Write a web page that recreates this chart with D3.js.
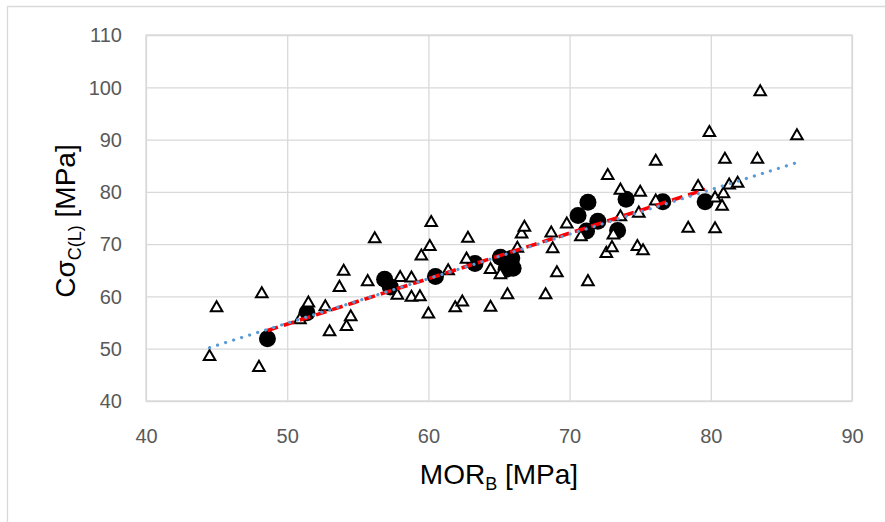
<!DOCTYPE html>
<html><head><meta charset="utf-8">
<script src="https://cdn.jsdelivr.net/npm/d3@7"></script>
<style>body{margin:0;background:#fff} svg{display:block}</style>
</head><body>
<svg id="c" width="885" height="522"></svg>
<script>
const xTicks = [40, 50, 60, 70, 80, 90];
const yTicks = [40, 50, 60, 70, 80, 90, 100, 110];

// open triangles series
const triX = [44.5,45.0,48.0,48.2,50.9,51.5,52.7,53.0,54.2,54.5,53.7,54.0,55.7,56.2,58.0,58.8,57.8,58.8,59.4,59.5,
  60.1,60.2,60.0,61.4,61.9,62.4,62.7,62.8,64.4,65.1,64.4,65.6,66.3,66.6,66.8,68.3,68.7,68.8,69.1,69.8,
  70.8,71.3,72.6,73.0,72.7,73.1,73.6,73.6,75.0,74.9,74.8,75.2,76.1,76.1,78.4,79.1,79.9,80.3,80.3,80.8,
  80.9,81.0,81.3,81.9,83.3,83.5,86.1];
const triY = [48.5,57.8,46.4,60.5,55.5,58.7,58.0,53.2,54.2,56.1,61.7,64.8,62.8,71.0,63.6,63.5,60.2,59.8,59.9,67.7,
  69.5,74.1,56.6,64.9,57.8,58.9,67.1,71.1,65.1,64.1,57.9,60.3,69.2,71.9,73.2,60.3,72.1,69.1,64.5,73.8,
  71.4,62.8,68.2,69.3,83.1,71.7,80.3,75.2,79.9,75.9,69.5,68.7,85.8,78.2,73.0,81.0,91.3,78.8,72.9,77.2,
  79.6,86.2,81.3,81.6,86.2,99.1,90.7];

// filled circles series
const dotX = [48.6,51.4,56.9,57.3,60.5,63.3,65.1,65.9,65.5,66.0,71.3,70.6,72.0,71.2,73.4,74.0,76.6,79.6];
const dotY = [51.9,56.9,63.3,61.8,63.8,66.3,67.5,67.3,65.2,65.4,78.0,75.5,74.4,72.5,72.6,78.6,78.1,78.1];

// linear trend lines [slope, intercept]
const triFit = [0.851, 12.33];
const dotFit = [0.870, 11.2];

const svg = d3.select('#c');
const x = d3.scaleLinear().domain([40, 90]).range([146, 852]);
const y = d3.scaleLinear().domain([40, 110]).range([401, 35]);
const font = "'Liberation Sans', Arial, sans-serif";

// outer chart frame (top and left visible)
svg.append('path').attr('d', 'M7.5,522V6.5H885').attr('fill', 'none').attr('stroke', '#d9d9d9').attr('stroke-width', 1.3);

// gridlines + tick labels
const gx = svg.append('g').attr('transform', `translate(0,${y(40)})`)
  .call(d3.axisBottom(x).tickValues(xTicks).tickSize(-(y(40) - y(110))).tickPadding(28));
const gy = svg.append('g').attr('transform', `translate(${x(40)},0)`)
  .call(d3.axisLeft(y).tickValues(yTicks).tickSize(-(x(90) - x(40))).tickPadding(24));
[gx, gy].forEach(g => {
  g.select('.domain').remove();
  g.selectAll('.tick line').attr('stroke', '#d9d9d9').attr('stroke-width', 1.3);
  g.selectAll('.tick text').attr('fill', '#595959').style('font-family', font).style('font-size', '20px');
});
gy.selectAll('.tick text').attr('dy', '0.34em');

// plot area border
svg.append('rect').attr('x', x(40)).attr('y', y(110)).attr('width', x(90) - x(40)).attr('height', y(40) - y(110))
  .attr('fill', 'none').attr('stroke', '#d9d9d9').attr('stroke-width', 1.3);

// circles
svg.append('g').selectAll('circle').data(dotX.map((v, i) => [v, dotY[i]])).join('circle')
  .attr('cx', d => x(d[0])).attr('cy', d => y(d[1])).attr('r', 8.5).attr('fill', '#000');

// triangles
const sym = d3.symbol().type(d3.symbolTriangle).size(58);
svg.append('g').selectAll('path').data(triX.map((v, i) => [v, triY[i]])).join('path')
  .attr('d', sym).attr('transform', d => `translate(${x(d[0])},${y(d[1])})`)
  .attr('fill', '#fff').attr('stroke', '#000').attr('stroke-width', 2).attr('stroke-linejoin', 'miter');

// trend lines
const line = d3.line().x(d => x(d[0])).y(d => y(d[1]));
const dotExt = d3.extent(dotX);
svg.append('path').attr('d', line(dotExt.map(v => [v, dotFit[0] * v + dotFit[1]])))
  .attr('fill', 'none').attr('stroke', '#ff0000').attr('stroke-width', 3.6).attr('stroke-dasharray', '11 6');
const triExt = d3.extent(triX);
svg.append('path').attr('d', line(triExt.map(v => [v, triFit[0] * v + triFit[1]])))
  .attr('fill', 'none').attr('stroke', '#5b9bd5').attr('stroke-width', 3.2).attr('stroke-linecap', 'round')
  .attr('stroke-dasharray', '0.1 8.3');

// axis titles
const xt = svg.append('text').attr('x', (x(40) + x(90)) / 2).attr('y', 484).attr('text-anchor', 'middle')
  .style('font-family', font).style('font-size', '28px').attr('fill', '#000');
xt.append('tspan').text('MOR');
xt.append('tspan').text('B').attr('dy', 6).style('font-size', '18px');
xt.append('tspan').text(' [MPa]').attr('dy', -6);

const yt = svg.append('text').attr('transform', `translate(75,${(y(40) + y(110)) / 2 + 3}) rotate(-90)`)
  .attr('text-anchor', 'middle').style('font-family', font).style('font-size', '28px').attr('fill', '#000');
yt.append('tspan').text('Cσ');
yt.append('tspan').text('C(L)').attr('dy', 6).style('font-size', '18px');
yt.append('tspan').text(' [MPa]').attr('dy', -6);
</script>
</body></html>
